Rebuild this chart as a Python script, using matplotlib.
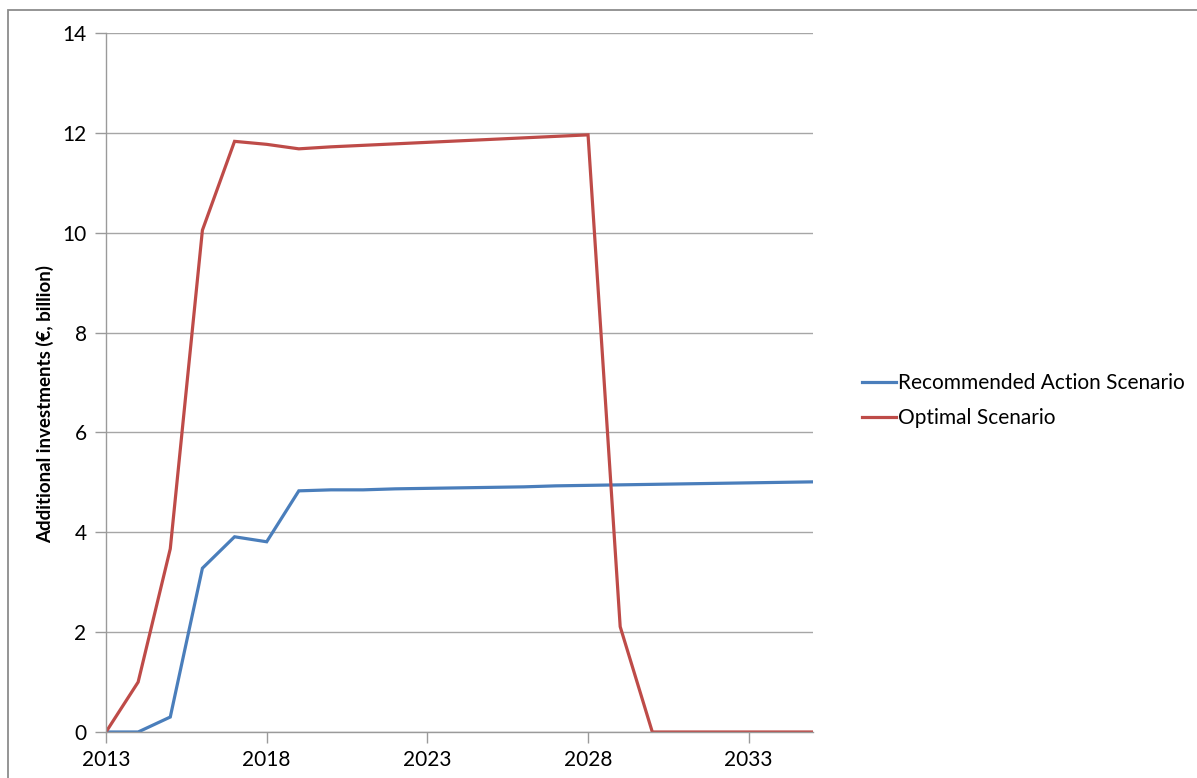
import matplotlib.pyplot as plt
from matplotlib.patches import Rectangle

plt.rcParams['font.family'] = ['Lato', 'DejaVu Sans']

years = list(range(2013, 2036))
recommended = [0, 0, 0.3, 3.28, 3.91, 3.81, 4.83, 4.85, 4.85, 4.87, 4.88, 4.89,
               4.90, 4.91, 4.93, 4.94, 4.95, 4.96, 4.97, 4.98, 4.99, 5.00, 5.01]
optimal = [0, 1.0, 3.67, 10.05, 11.83, 11.77, 11.68, 11.72, 11.75, 11.78, 11.81, 11.84,
           11.87, 11.90, 11.93, 11.96, 2.11, 0, 0, 0, 0, 0, 0]
x_ticks = [2013, 2018, 2023, 2028, 2033]
y_ticks = [0, 2, 4, 6, 8, 10, 12, 14]

W, H = 1197, 778
fig = plt.figure(figsize=(W / 100, H / 100), dpi=100)
fig.patch.set_facecolor('white')

# outer chart border (runs off the right and bottom of the picture)
fig.patches.append(Rectangle((8 / W, -0.1), 1.2, 1.1 - 10 / H, transform=fig.transFigure,
                             fill=False, edgecolor='#8c8c8c', linewidth=1.3))

ax = fig.add_axes([106 / W, 1 - 732 / H, (813 - 106) / W, (732 - 33) / H])
ax.plot(years, recommended, color='#4a7ebb', linewidth=2.3, label='Recommended Action Scenario',
        solid_joinstyle='miter')
ax.plot(years, optimal, color='#be4b48', linewidth=2.3, label='Optimal Scenario',
        solid_joinstyle='miter')

ax.set_xlim(2013, 2035)
ax.set_ylim(0, 14)
ax.set_xticks(x_ticks)
ax.set_yticks(y_ticks)
ax.yaxis.grid(True, color='#a6a6a6', linewidth=1)
ax.set_axisbelow(True)
for s in ['top', 'right']:
    ax.spines[s].set_visible(False)
for s in ['left', 'bottom']:
    ax.spines[s].set_color('#9a9a9a')
    ax.spines[s].set_linewidth(1)
ax.tick_params(axis='both', colors='#9a9a9a', labelcolor='black', labelsize=15, length=8, width=1)
ax.tick_params(axis='x', pad=5)
ax.tick_params(axis='y', pad=6)
ax.set_ylabel('Additional investments (€, billion)', fontsize=13.5, fontweight='bold')
ax.yaxis.set_label_coords(-52 / 707, (732 - 404) / 699)

ax.legend(loc='center left', bbox_to_anchor=(843 / 707 - 106 / 707, 0.474), frameon=False,
          fontsize=15, handlelength=1.65, handletextpad=0.1, labelspacing=0.75)

fig.savefig('out.png', dpi=100)
